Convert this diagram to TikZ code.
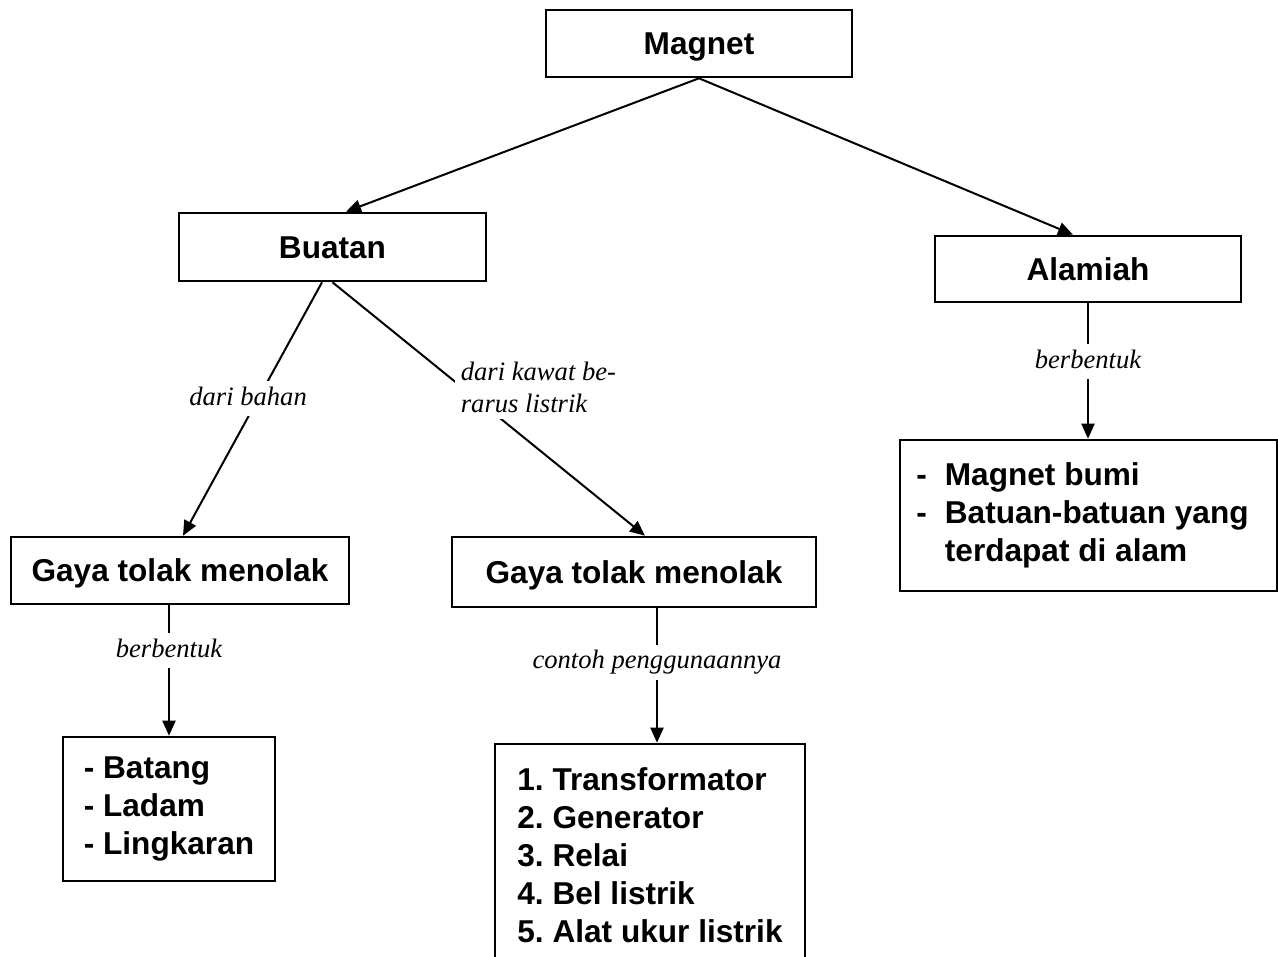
\documentclass[tikz,border=0pt]{standalone}
\usepackage{fontspec}
\usetikzlibrary{arrows.meta}
\newfontfamily\boxfont{Liberation Sans}
\newfontfamily\lblfont{Liberation Serif}
\frenchspacing

\begin{document}
\begin{tikzpicture}[x=0.5pt,y=-0.5pt,box/.style={draw,line width=1.3pt,inner sep=0pt,font=\boxfont\bfseries\fontsize{15.8}{19}\selectfont},onebox/.style={box,text height=11.3pt,text depth=0pt},lbl/.style={fill=white,inner sep=3pt,font=\lblfont\itshape\fontsize{13.3}{16}\selectfont},onelbl/.style={lbl,text height=9pt,text depth=2.5pt},arr/.style={line width=1pt,-{Triangle[length=7.5pt,width=6.5pt]}}]
\useasboundingbox (0,0) rectangle (1278,957);
\fill[white] (0,0) rectangle (1278,957);
\clip (0,0) rectangle (1278,957);
\node[onebox,minimum width=153pt,minimum height=33.5pt] (magnet) at (699,43.5){Magnet};
\node[onebox,minimum width=153.5pt,minimum height=34pt] (buatan) at (332.5,247){Buatan};
\node[onebox,minimum width=153pt,minimum height=33pt] (alamiah) at (1088,269){Alamiah};
\node[onebox,minimum width=169pt,minimum height=33.5pt] (bahan) at (180,570.5){Gaya tolak menolak};
\node[onebox,minimum width=182pt,minimum height=35pt] (kawat) at (634,572){Gaya tolak menolak};
\node[box,align=left,minimum width=106pt,minimum height=72pt] (bentuk) at (169,809){- Batang\\- Ladam\\- Lingkaran};
\node[box,align=left,minimum width=155pt,minimum height=111pt] (alat) at (650,855){1. Transformator\\2. Generator\\3. Relai\\4. Bel listrik\\5. Alat ukur listrik};
\node[box,minimum width=188.5pt,minimum height=75.5pt] (alam) at (1088.5,515.5){\begin{tabular}{@{\hspace{-2.5pt}}l@{\hspace{9pt}}l@{\hspace{3.5pt}}}-&Magnet bumi\\-&Batuan-batuan yang\\&terdapat di alam\end{tabular}};
\coordinate (kawatfoot) at ([xshift=11.5pt]kawat.south);
\draw[arr] (magnet.south) -- ([xshift=6.75pt]buatan.north);
\draw[arr] (magnet.south) -- ([xshift=-7.5pt]alamiah.north);
\draw[arr] ([xshift=-5.25pt]buatan.south) -- ([xshift=1.5pt]bahan.north) node[onelbl,pos=0.46,xshift=-5pt] (lbahan){dari bahan};
\draw[arr] (buatan.south) -- ([xshift=5.5pt]kawat.north) node[lbl,pos=0.414,anchor=west,xshift=-4pt,align=left] (lkawat){dari kawat be-\\rarus listrik};
\draw[arr] (alamiah.south) -- (alamiah.south |- alam.north) node[onelbl,pos=0.43] (lalam){berbentuk};
\draw[arr] (bentuk.north |- bahan.south) -- (bentuk.north) node[onelbl,pos=0.35] (lbentuk){berbentuk};
\draw[arr] (kawatfoot) -- (kawatfoot |- alat.north) node[onelbl,pos=0.40] (lalat){contoh penggunaannya};
\end{tikzpicture}
\end{document}
